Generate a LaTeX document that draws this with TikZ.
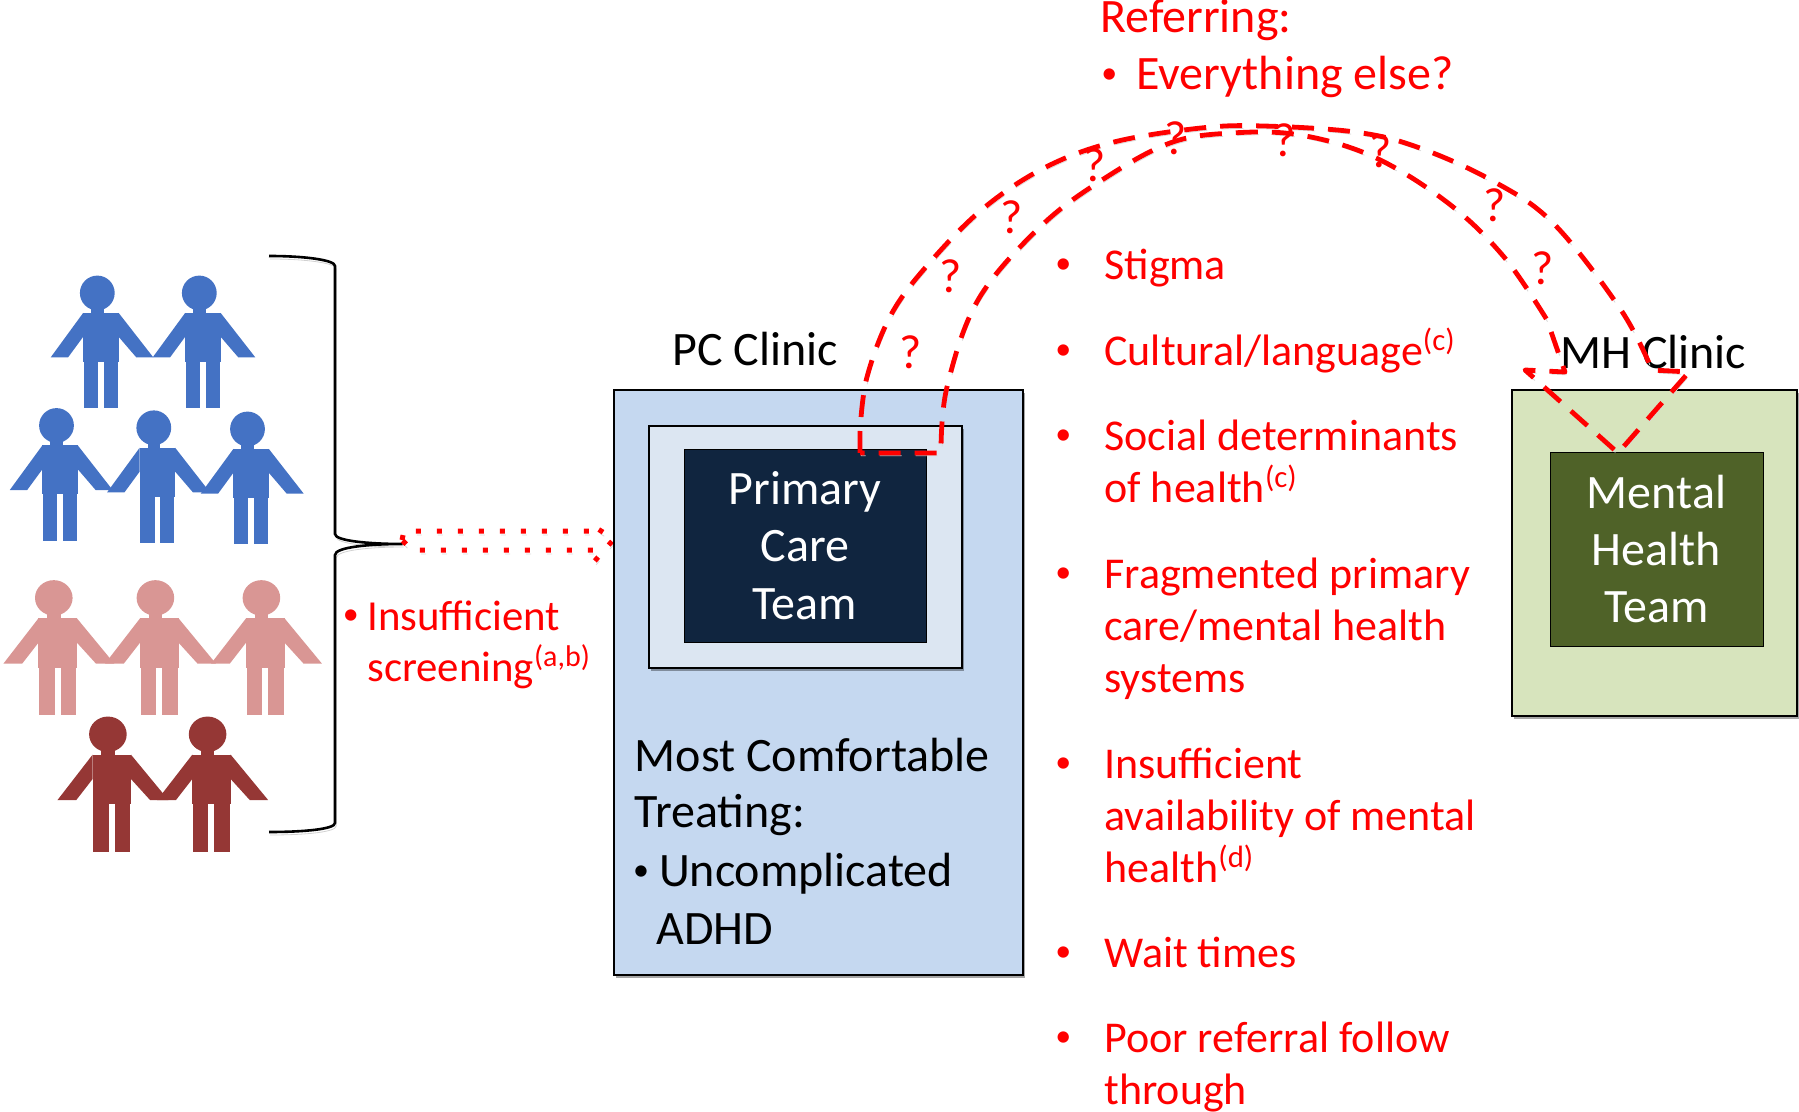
\documentclass[tikz,border=0pt]{standalone}
\usepackage{xcolor}
\usepackage{fontspec}
\setmainfont{Carlito}
\usepackage{tikz}
\usetikzlibrary{positioning,arrows.meta}
\usetikzlibrary{shadows}

\definecolor{figblue}{HTML}{4472C4}
\definecolor{figpink}{HTML}{D99694}
\definecolor{figdark}{HTML}{953735}
\definecolor{pcblue}{HTML}{C5D8F0}
\definecolor{pcpale}{HTML}{DCE6F2}
\definecolor{pcnavy}{HTML}{10253F}
\definecolor{mhgreen}{HTML}{D7E4BD}
\definecolor{mhdark}{HTML}{4F6228}

\newcommand{\redmark}[1]{\llap{\raisebox{3pt}{\fontsize{16}{16}\selectfont\textbullet}\hspace{#1}}}
\newcommand{\refmark}[1]{\smash{\textsuperscript{#1}}}

\tikzset{
    person/.pic={
        \fill[pic actions] (0,0) circle (17.4);
        \fill[pic actions] (-6.3,10) rectangle (6.3,25);
        \fill[pic actions] (-14.2,20) rectangle (21.4,68.8);
        \fill[pic actions] (-13.4,60) rectangle (0.8,115);
        \fill[pic actions] (6.3,60) rectangle (20.6,115);
        \fill[pic actions] (-14.2,20) -- (-46.7,64.5) -- (-29.3,64.5) -- (-14.2,43.9) -- cycle;
        \fill[pic actions] (21.4,20) -- (56.1,64.5) -- (39.1,64.5) -- (21.4,43.9) -- cycle;
    },
    bluefig/.style={fill=figblue},
    pinkfig/.style={fill=figpink, xscale=1.08, yscale=1.02},
    darkfig/.style={fill=figdark, xscale=1.08, yscale=1.02},
    softshadow/.style={drop shadow={shadow xshift=1pt, shadow yshift=-1.5pt, opacity=.35, fill=black}},
    clinicbox/.style={draw=black, line width=.7pt, softshadow},
    redtext/.style={anchor=north west, inner sep=0pt, align=left, text=red, font=\fontsize{22}{26}\selectfont},
    sidetext/.style={redtext, font=\fontsize{21.4}{25.2}\selectfont},
    blacktext/.style={anchor=base west, inner sep=0pt, text=black, font=\fontsize{24}{26}\selectfont},
    teamtext/.style={align=center, text=white, font=\fontsize{24}{28.7}\selectfont},
    qmark/.style={inner sep=0pt, text=red, font=\fontsize{24}{26}\selectfont},
    dashedarc/.style={draw=red, line width=2.4pt, dash pattern=on 11pt off 7pt, line join=round,
        preaction={draw=black!15, dash pattern=on 11pt off 7pt, transform canvas={xshift=.6pt, yshift=-1.4pt}}},
    dottedarrow/.style={draw=red, line width=2.5pt, dash pattern=on 2.5pt off 8pt,
        preaction={draw=black!15, dash pattern=on 2.5pt off 8pt, transform canvas={xshift=.6pt, yshift=-2pt}}},
}

\begin{document}
\begin{tikzpicture}[x=0.5pt, y=-0.5pt]
    \useasboundingbox (0,0) rectangle (1799,1112);

    \foreach \px/\py in {97.3/293, 199.3/293, 56.5/425.5, 153.8/427.8, 247.5/429}
        \pic[bluefig] at (\px,\py) {person};
    \foreach \px/\py in {53.8/597.9, 155.4/597.9, 261.4/597.9}
        \pic[pinkfig] at (\px,\py) {person};
    \foreach \px/\py in {107.9/734.3, 207.6/734.3}
        \pic[darkfig] at (\px,\py) {person};

    \draw[line width=1.3pt, preaction={draw=black!18, transform canvas={xshift=.6pt, yshift=-1.5pt}}]
        (269,256) .. controls (305,256) and (335,260) .. (335,266) -- (335,534)
        .. controls (335,541) and (370,544) .. (402.5,544)
        .. controls (370,544) and (335,547) .. (335,555) -- (335,823)
        .. controls (335,829) and (305,832) .. (269,832);

    \draw[dottedarrow] (402,540) -- (404,531) -- (593,531) -- (593,526) -- (614,539)
        -- (593,563) -- (593,550) -- (412,550) -- cycle;

    \node[sidetext] (screening) at (367,595) {\redmark{4.3pt}\strut Insufficient\\screening\refmark{(a,b)}};

    \node[clinicbox, fill=pcblue, minimum width=204.5pt, minimum height=292.5pt] (pcbox) at (818.5,682.5) {};
    \node[clinicbox, fill=pcpale, minimum width=156.5pt, minimum height=121pt] (pcinner) at (805.5,547) {};
    \node[draw=black, fill=pcnavy, minimum width=121pt, minimum height=96.5pt, teamtext] (pcteam) at (805,545.5) {Primary\\Care\\Team};
    \node[clinicbox, fill=mhgreen, minimum width=142.5pt, minimum height=163pt] (mhbox) at (1654.5,553) {};
    \node[draw=black, fill=mhdark, minimum width=106.5pt, minimum height=97pt, teamtext] (mhteam) at (1656.5,549) {Mental\\Health\\Team};

    \node[blacktext] (pclabel) at (672,366) {PC Clinic};
    \node[blacktext] (mhlabel) at (1560,369) {MH Clinic};
    \node[blacktext] (comfort1) at (634.5,771) {Most Comfortable};
    \node[blacktext] (comfort2) at (634.5,827) {Treating:};
    \node[blacktext] (comfort3) at (658.6,886) {\redmark{5pt}Uncomplicated};
    \node[blacktext] (comfort4) at (656,944) {ADHD};

    \draw[dashedarc] (860,453) -- plot[smooth, tension=.6] coordinates {(860,432) (867,377) (892,313) (932,260) (985,207) (1046,167) (1114,142) (1201,128) (1263,126) (1355,132) (1417,147) (1491,180) (1553,223) (1621,310) (1652,370)}
        -- (1689,372) -- (1618,453) -- (1525,370) -- (1565,372)
        -- plot[smooth, tension=.6] coordinates {(1547,320) (1504,257) (1448,203) (1374,157) (1300,135) (1232,133) (1170,143) (1102,180) (1040,227) (978,300) (947,387) (941,450)}
        -- (941,453) -- cycle;

    \foreach \qx/\qy in {911/352, 951/276.5, 1012/217, 1094.5/165, 1176/138, 1285/140, 1381/151, 1495/205, 1543/268}
        \node[qmark] at (\qx,\qy) {?};

    \node[redtext, font=\fontsize{24}{26}\selectfont] (referring) at (1100,-4) {\strut Referring:};
    \node[redtext, font=\fontsize{24}{26}\selectfont] (everything) at (1136,53) {\redmark{9.5pt}\strut Everything else?};

    \node[redtext] (stigma) at (1104,243) {\redmark{16.6pt}\strut Stigma};
    \node[redtext] (cultural) at (1104,329) {\redmark{16.6pt}\strut Cultural/language\refmark{(c)}};
    \node[redtext] (social) at (1104,414) {\redmark{16.6pt}\strut Social determinants\\of health\refmark{(c)}};
    \node[redtext] (fragmented) at (1104,552) {\redmark{16.6pt}\strut Fragmented primary\\care/mental health\\systems};
    \node[redtext] (availability) at (1104,742) {\redmark{16.6pt}\strut Insufficient\\availability of mental\\health\refmark{(d)}};
    \node[redtext] (wait) at (1104,931) {\redmark{16.6pt}\strut Wait times};
    \node[redtext] (poor) at (1104,1016) {\redmark{16.6pt}\strut Poor referral follow\\through};
\end{tikzpicture}
\end{document}
